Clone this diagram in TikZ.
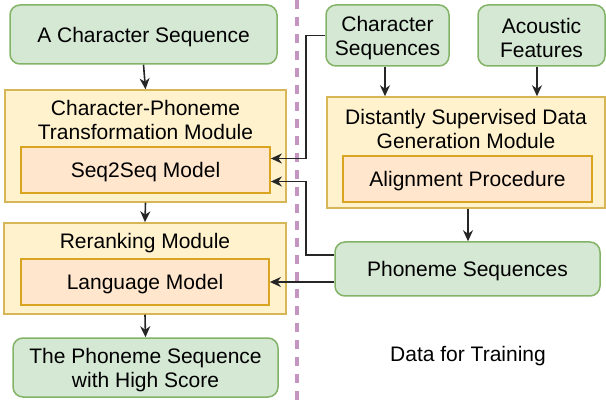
\documentclass[tikz,border=0pt]{standalone}
\usepackage{fontspec}
\setmainfont{Liberation Sans}
\usetikzlibrary{arrows.meta}
\definecolor{gfill}{HTML}{D5E8D4}
\definecolor{gdraw}{HTML}{82B366}
\definecolor{yfill}{HTML}{FFF2CC}
\definecolor{ydraw}{HTML}{D6B656}
\definecolor{ofill}{HTML}{FFE6CC}
\definecolor{odraw}{HTML}{D9A520}
\definecolor{sepcol}{HTML}{C595C2}
\begin{document}
\begin{tikzpicture}[x=1pt,y=-1pt,
  every node/.style={font=\fontsize{21}{24}\selectfont, align=center, inner sep=0pt, text=black},
  greenbox/.style={draw=gdraw, fill=gfill, line width=1.5pt, rounded corners=10pt},
  outerbox/.style={draw=ydraw, fill=yfill, line width=1.5pt},
  innerbox/.style={draw=odraw, fill=ofill, line width=1.8pt},
  boxtext/.style={yshift=-2.5pt},
  conn/.style={line width=1.6pt, draw=black!85},
  arr/.style={conn, -{Stealth[length=11pt,width=10pt,inset=3.5pt]}},
  sep/.style={draw=sepcol, line width=3.2pt, dash pattern=on 9pt off 8pt}
]
\useasboundingbox (0,0) rectangle (606,401);
\draw[sep] (297,0) -- (297,401);

% left column
\node[greenbox, minimum width=267pt, minimum height=59pt] (acs) at (143.5,34.5) {};
\node[boxtext] (acst) at (acs.center) {A Character Sequence};
\node[outerbox, minimum width=281pt, minimum height=112pt] (cpt) at (145.5,146) {};
\node (cpttitle) at (145.5,119.5) {Character-Phoneme\\Transformation Module};
\node[innerbox, minimum width=249pt, minimum height=46pt] (s2s) at (145.5,170) {};
\node[boxtext] (s2st) at (s2s.center) {Seq2Seq Model};
\node[outerbox, minimum width=282pt, minimum height=91pt] (rr) at (145,268.5) {};
\node (rrtitle) at (145,243) {Reranking Module};
\node[innerbox, minimum width=248pt, minimum height=46pt] (lm) at (145,282) {};
\node[boxtext] (lmt) at (lm.center) {Language Model};
\node[greenbox, minimum width=265pt, minimum height=59pt] (out) at (145.5,367.5) {};
\node[boxtext] (outt) at (out.center) {The Phoneme Sequence\\with High Score};

% right column
\node[greenbox, minimum width=123pt, minimum height=61pt] (cs) at (387.5,35.5) {};
\node[boxtext] (cst) at (cs.center) {Character\\Sequences};
\node[greenbox, minimum width=127pt, minimum height=61pt] (af) at (541.5,35.5) {};
\node[boxtext] (aft) at (af.center) {Acoustic\\Features};
\node[outerbox, minimum width=278pt, minimum height=111pt] (ds) at (466,152.5) {};
\node (dstitle) at (466,129) {Distantly Supervised Data\\Generation Module};
\node[innerbox, minimum width=249pt, minimum height=46pt] (al) at (467.5,179) {};
\node[boxtext] (alt) at (al.center) {Alignment Procedure};
\node[greenbox, minimum width=265pt, minimum height=54pt] (ps) at (467.5,269) {};
\node[boxtext] (pst) at (ps.center) {Phoneme Sequences};
\node (dft) at (468,356) {Data for Training};

% arrows
\draw[arr] (acs.south) -- (cpt.north);
\draw[arr] (cpt.south) -- (rr.north);
\draw[arr] (rr.south) -- (out.north);
\draw[arr] (cs.south -| 385,0) -- (ds.north -| 385,0);
\draw[arr] (af.south -| 537,0) -- (ds.north -| 537,0);
\draw[arr] (ds.south -| 468,0) -- (ps.north -| 468,0);
\draw[arr] (cs.west) -- (306,35.5) -- (306,158.5) -- (s2s.east |- 0,158.5);
\draw[arr] (ps.west |- 0,255) -- (306,255) -- (306,181.5) -- (s2s.east |- 0,181.5);
\draw[arr] (ps.west |- 0,282) -- (lm.east);
\end{tikzpicture}
\end{document}
